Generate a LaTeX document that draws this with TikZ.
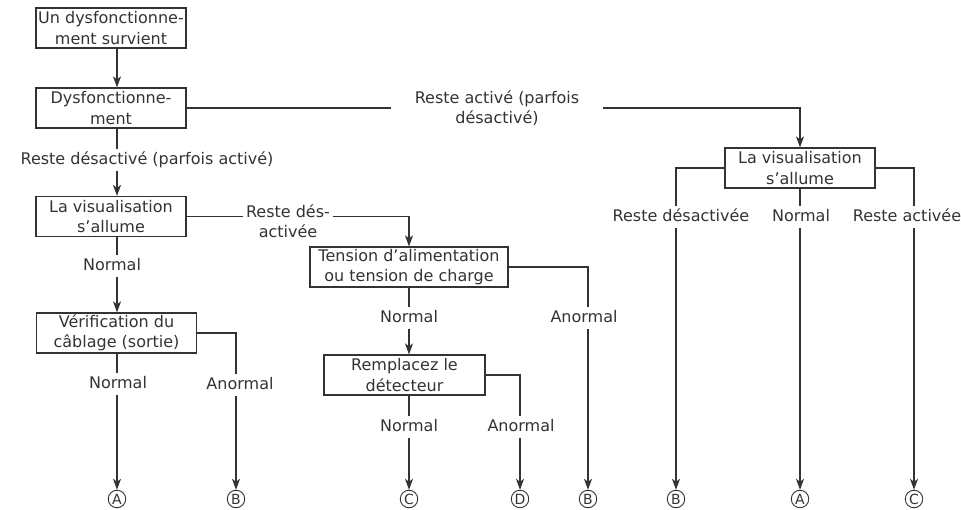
\documentclass[tikz,border=0pt]{standalone}
\usepackage{fontspec}
\setmainfont{DejaVu Sans}
\usetikzlibrary{arrows.meta}
\definecolor{ink}{HTML}{333333}
\begin{document}
\begin{tikzpicture}[x=1pt,y=-1pt,
 every node/.style={text=ink, font=\fontsize{16}{20.5}\selectfont},
 box/.style={draw=ink, line width=1.2pt, align=center, inner sep=0pt, minimum height=40pt},
 lbl/.style={inner xsep=3pt, inner ysep=3pt, text height=12pt, text depth=3.5pt},
 lbltwo/.style={align=center, inner sep=3pt},
 term/.style={draw=ink, circle, line width=0.9pt, minimum size=17.5pt, inner sep=0pt, font=\fontsize{14}{14}\selectfont},
 line/.style={draw=ink, line width=1.2pt},
 arr/.style={line, -{Stealth[length=11pt,width=8pt,inset=3pt]}}
]
\useasboundingbox (0,0) rectangle (961,510);
\coordinate (sx) at (117,0);
% boxes
\node[box, minimum width=150pt] (b1) at (111,28) {Un dysfonctionne-\\ment survient};
\node[box, minimum width=150pt] (b2) at (111,108) {Dysfonctionne-\\ment};
\node[box, minimum width=150pt] (b3) at (111,216.5) {La visualisation\\s’allume};
\node[box, minimum width=160pt] (b5) at (116.5,333) {Vérification du\\câblage (sortie)};
\node[box, minimum width=198pt] (b4) at (409,267) {Tension d’alimentation\\ou tension de charge};
\node[box, minimum width=161pt] (b6) at (404.5,375) {Remplacez le\\détecteur};
\node[box, minimum width=150pt] (b7) at (800,168) {La visualisation\\s’allume};
% labels
\node[lbltwo, inner xsep=24pt] (l1) at (497,108) {Reste activé (parfois\\désactivé)};
\node[lbl] (l2) at (147,160) {Reste désactivé (parfois activé)};
\node[lbltwo] (l3) at (288,221) {Reste dés-\\activée};
\node[lbl] (n3) at (112,266) {Normal};
\node[lbl] (n5) at (118,384) {Normal};
\node[lbl] (a5) at (240,385) {Anormal};
\node[lbl] (n4) at (409,318) {Normal};
\node[lbl] (a4) at (584,318) {Anormal};
\node[lbl] (n6) at (409,427) {Normal};
\node[lbl] (a6) at (521,427) {Anormal};
\node[lbl] (r1) at (681,217) {Reste désactivée};
\node[lbl] (r2) at (801,217) {Normal};
\node[lbl] (r3) at (907,217) {Reste activée};
% terminals
\node[term] (tA1) at (117,499) {A};
\node[term] (tB1) at (236,499) {B};
\node[term] (tC1) at (409,499) {C};
\node[term] (tD)  at (520,499) {D};
\node[term] (tB2) at (588,499) {B};
\node[term] (tB3) at (676,499) {B};
\node[term] (tA2) at (800,499) {A};
\node[term] (tC2) at (914,499) {C};
% connectors
\draw[arr] (b1.south -| sx) -- (b2.north -| sx);
\draw[line] (b2.east) -- (l1.west |- b2.east);
\draw[arr] (l1.east |- b2.east) -| (b7.north);
\draw[line] (b2.south -| sx) -- (l2.north -| sx);
\draw[arr] (l2.south -| sx) -- (b3.north -| sx);
\draw[line] (b3.east) -- (l3.west |- b3.east);
\draw[arr] (l3.east |- b3.east) -| (b4.north);
\draw[line] (b3.south -| sx) -- (n3.north -| sx);
\draw[arr] (n3.south -| sx) -- (b5.north -| sx);
\draw[line] (b5.south -| sx) -- (n5.north -| sx);
\draw[arr] (n5.south -| sx) -- (tA1.north);
\draw[line] (b5.east) -| (a5.north -| tB1);
\draw[arr] (a5.south -| tB1) -- (tB1.north);
\draw[line] (b4.south) -- (n4.north -| b4.south);
\draw[arr] (n4.south -| b4.south) -- (b6.north -| b4.south);
\draw[line] (b4.east) -| (a4.north -| tB2);
\draw[arr] (a4.south -| tB2) -- (tB2.north);
\draw[line] (b6.south -| tC1) -- (n6.north -| tC1);
\draw[arr] (n6.south -| tC1) -- (tC1.north);
\draw[line] (b6.east) -| (a6.north -| tD);
\draw[arr] (a6.south -| tD) -- (tD.north);
\draw[line] (b7.west) -| (r1.north -| tB3);
\draw[arr] (r1.south -| tB3) -- (tB3.north);
\draw[line] (b7.south) -- (r2.north -| b7.south);
\draw[arr] (r2.south -| b7.south) -- (tA2.north);
\draw[line] (b7.east) -| (r3.north -| tC2);
\draw[arr] (r3.south -| tC2) -- (tC2.north);
\end{tikzpicture}
\end{document}
